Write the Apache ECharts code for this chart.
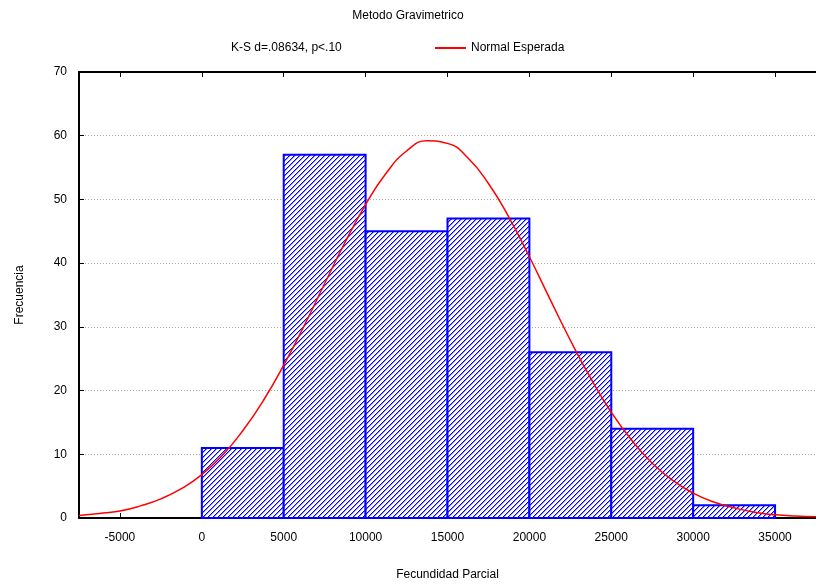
<!DOCTYPE html>
<html>
<head>
<meta charset="utf-8">
<script src="https://cdn.jsdelivr.net/npm/echarts@6/dist/echarts.min.js"></script>
<style>
  html, body { margin: 0; padding: 0; background: #fff; }
  #chart { width: 816px; height: 586px; }
</style>
</head>
<body>
<div id="chart"></div>
<script>
// histogram bins (Fecundidad Parcial) and counts
const binStart = [0, 5000, 10000, 15000, 20000, 25000, 30000];
const binEnd = [5000, 10000, 15000, 20000, 25000, 30000, 35000];
const counts = [11, 57, 45, 47, 26, 14, 2];

// expected normal curve
const curveX = [-7500, -6250, -5000, -3750, -2500, -1250, 0, 1250, 2500, 3750, 5000, 6250, 7500, 8750,
  10000, 11250, 12500, 13750, 15000, 16250, 17500, 18750, 20000, 21250, 22500, 23750, 25000, 26250,
  27500, 28750, 30000, 31250, 32500, 33750, 35000, 36250, 37500];
const curveY = [0.4, 0.7, 1.1, 1.9, 3.0, 4.6, 6.8, 9.8, 13.7, 18.4, 24.0, 30.2, 36.8, 43.3,
  49.2, 54.1, 57.6, 59.2, 58.8, 56.5, 52.5, 47.2, 41.0, 34.4, 27.9, 21.9, 16.6, 12.2,
  8.6, 5.9, 3.9, 2.5, 1.6, 0.9, 0.5, 0.3, 0.2];

const xTicks = [-5000, 0, 5000, 10000, 15000, 20000, 25000, 30000, 35000];

const font = "'Liberation Sans', Arial, sans-serif";

// "/" hatch tile: 5px period, one solid pixel plus a soft edge per row
function makeHatch() {
  const n = 5;
  const c = document.createElement("canvas");
  c.width = n;
  c.height = n;
  const ctx = c.getContext("2d");
  ctx.fillStyle = "#ffffff";
  ctx.fillRect(0, 0, n, n);
  for (let r = 0; r < n; r++) {
    ctx.fillStyle = "#0000ff";
    ctx.fillRect(n - 1 - r, r, 1, 1);
    ctx.fillStyle = "#8c8cff";
    ctx.fillRect((n - r) % n, r, 1, 1);
  }
  return { image: c, repeat: "repeat" };
}
const hatch = makeHatch();

function renderBar(params, api) {
  const p0 = api.coord([api.value(0), api.value(2)]);
  const p1 = api.coord([api.value(1), 0]);
  return {
    type: "rect",
    shape: { x: p0[0], y: p0[1], width: p1[0] - p0[0], height: p1[1] - p0[1] },
    style: { fill: hatch, stroke: "#0000ff", lineWidth: 2 }
  };
}

const myChart = echarts.init(document.getElementById("chart"));
const option = {
  animation: false,
  backgroundColor: "#fff",
  textStyle: { fontFamily: font },
  title: [
    {
      text: "Metodo Gravimetrico",
      left: "center",
      top: 5,
      textStyle: { fontFamily: font, fontSize: 12, fontWeight: "normal", color: "#000" }
    },
    {
      text: "K-S d=.08634, p<.10",
      left: 226,
      top: 37,
      textStyle: { fontFamily: font, fontSize: 12, fontWeight: "normal", color: "#000" }
    }
  ],
  legend: {
    left: 430,
    top: 37,
    itemWidth: 31,
    itemHeight: 2,
    itemGap: 13,
    textStyle: { fontFamily: font, fontSize: 12, color: "#000" },
    data: [{ name: "Normal Esperada", icon: "rect", itemStyle: { color: "#ff0000" } }]
  },
  grid: {
    left: 79,
    right: -8,
    top: 72,
    bottom: 68
  },
  xAxis: [
    {
      type: "value",
      position: "bottom",
      min: -7500,
      max: 37500,
      name: "Fecundidad Parcial",
      nameLocation: "middle",
      nameGap: 51,
      nameTextStyle: { fontFamily: font, fontSize: 12, color: "#000", verticalAlign: "top" },
      axisLine: { show: true, onZero: false, lineStyle: { color: "#000", width: 2 } },
      axisTick: { show: true, inside: true, length: 5, customValues: xTicks, lineStyle: { color: "#000" } },
      axisLabel: {
        customValues: xTicks, margin: 14, fontFamily: font, fontSize: 12, color: "#000",
        formatter: function (v) { return String(v); }
      },
      splitLine: { show: false }
    },
    {
      type: "value",
      position: "top",
      min: -7500,
      max: 37500,
      axisLine: { show: true, onZero: false, lineStyle: { color: "#000", width: 2 } },
      axisTick: { show: true, inside: true, length: 5, customValues: xTicks, lineStyle: { color: "#000" } },
      axisLabel: { show: false },
      splitLine: { show: false }
    }
  ],
  yAxis: {
    type: "value",
    min: 0,
    max: 70,
    interval: 10,
    name: "Frecuencia",
    nameLocation: "middle",
    nameGap: 53,
    nameTextStyle: { fontFamily: font, fontSize: 12, color: "#000" },
    axisLine: { show: true, onZero: false, lineStyle: { color: "#000", width: 2 } },
    axisTick: { show: true, inside: true, length: 5, lineStyle: { color: "#000" } },
    axisLabel: { margin: 12, fontFamily: font, fontSize: 12, color: "#000" },
    splitLine: { show: true, lineStyle: { color: "#aaa", type: [1, 2], width: 1 } }
  },
  series: [
    {
      type: "custom",
      name: "hist",
      z: 2,
      renderItem: renderBar,
      encode: { x: [0, 1], y: 2 },
      data: binStart.map((s, i) => [s, binEnd[i], counts[i]])
    },
    {
      type: "line",
      name: "Normal Esperada",
      z: 3,
      smooth: true,
      showSymbol: false,
      symbol: "none",
      lineStyle: { color: "#ff0000", width: 1.5 },
      itemStyle: { color: "#ff0000" },
      data: curveX.map((x, i) => [x, curveY[i]])
    }
  ]
};
myChart.setOption(option);
</script>
</body>
</html>
